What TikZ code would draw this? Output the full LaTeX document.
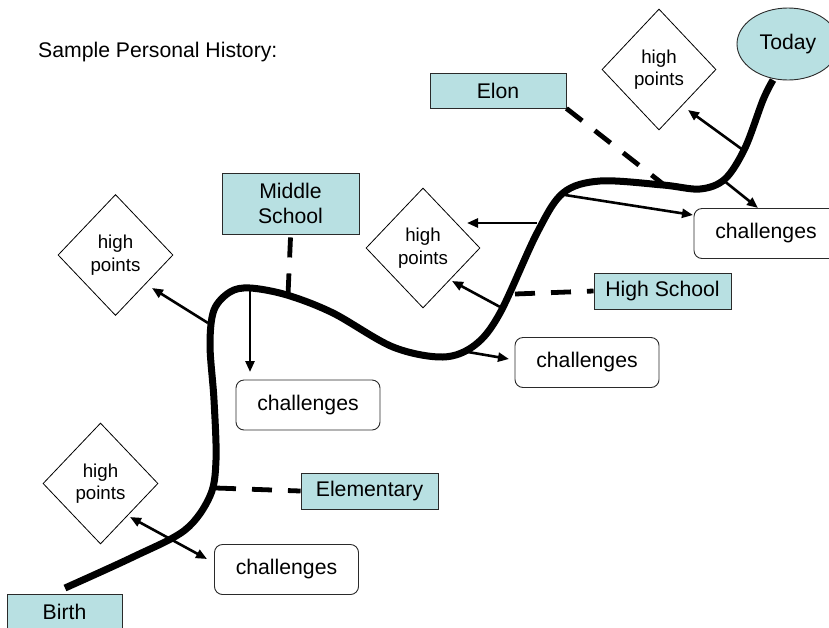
\documentclass[tikz,border=0pt]{standalone}
\usepackage{fontspec}
\setmainfont{Liberation Sans}
\usetikzlibrary{shapes.geometric,arrows.meta}
\definecolor{tealbox}{HTML}{B8E0E2}
\definecolor{edgegray}{HTML}{2A2A2A}
\tikzset{
  bluebox/.style={draw=edgegray,line width=0.9pt,fill=tealbox,inner sep=0pt,
    font=\fontsize{21.2}{25.5}\selectfont,align=center},
  chalbox/.style={draw=edgegray,line width=0.9pt,rounded corners=8pt,fill=white,
    inner sep=0pt,minimum width=144pt,minimum height=50pt,
    font=\fontsize{21.2}{25.5}\selectfont},
  hpdiam/.style={diamond,draw=black,line width=0.8pt,fill=white,inner sep=0pt,
    minimum width=115pt,minimum height=121pt,align=center,
    font=\fontsize{18.7}{22.5}\selectfont},
  lifeline/.style={line width=7pt,line cap=butt},
  dashlink/.style={line width=4.8pt,dash pattern=on 20pt off 16pt},
  arr/.style={line width=2.6pt,-{Triangle[length=11pt,width=9pt]}},
  dblarr/.style={line width=2.6pt,{Triangle[length=11pt,width=9pt]}-{Triangle[length=11pt,width=9pt]}},
}
\begin{document}
\begin{tikzpicture}[x=1pt,y=-1pt]
\useasboundingbox (0,0) rectangle (829,627);

% title
\node[anchor=base west,inner sep=0pt,font=\fontsize{21.2}{25.5}\selectfont] (title) at (38,57) {Sample Personal History:};

% life line
\coordinate (start) at (65,588);
\coordinate (finish) at (773,80);
\draw[lifeline] plot[smooth,tension=0.55] coordinates {
 (65,588) (133,557) (185,530) (210,496) (216,460) (214,400) (210,345)
 (214,310) (230,292) (250,288) (287,295) (333,313) (393,347) (443,357)
 (475,345) (500,313) (537,233) (563,193) (600,181) (663,185) (700,189)
 (725,179) (745,148) (763,100) (773,80)};

% milestone boxes
\node[bluebox,minimum width=136pt,minimum height=35pt] (elon) at (498,90.5) {Elon};
\node[bluebox,minimum width=137pt,minimum height=61pt] (ms) at (290.5,203.5) {Middle\\School};
\node[bluebox,minimum width=137pt,minimum height=36pt] (hs) at (662.5,291) {High School};
\node[bluebox,minimum width=137pt,minimum height=36pt] (el) at (369.5,491) {Elementary};
\node[bluebox,minimum width=115pt,minimum height=36pt] (birth) at (64.5,612) {Birth};
\node[ellipse,draw=edgegray,line width=0.9pt,fill=tealbox,inner sep=0pt,
  minimum width=102pt,minimum height=72pt,font=\fontsize{21.2}{25.5}\selectfont] (today) at (788,44) {Today};

% high points
\node[hpdiam,minimum width=114pt] (hp4) at (659,69.5) {high\\points};
\node[hpdiam] (hp1) at (115.5,255) {high\\points};
\node[hpdiam,minimum width=114pt,minimum height=120pt] (hp3) at (423,248) {high\\points};
\node[hpdiam] (hp0) at (100.5,483.5) {high\\points};

% challenges
\node[chalbox] (ch4) at (766,233.5) {challenges};
\node[chalbox] (ch3) at (587,362.5) {challenges};
\node[chalbox] (ch2) at (308,405) {challenges};
\node[chalbox] (ch1) at (286.5,569.5) {challenges};

% points on the line
\coordinate (pms) at (288,295);
\coordinate (pelon) at (663,184);
\coordinate (phs) at (515,294);
\coordinate (pel) at (216,488);

% dashed links
\draw[dashlink] ([yshift=-3pt]ms.south) -- (pms);
\draw[dashlink] (elon.south east) -- (pelon);
\draw[dashlink] (phs) -- (hs.west);
\draw[dashlink] (pel) -- (el.west);

% arrows
\coordinate (a1s) at (208,323); \coordinate (a1e) at (152,288);
\coordinate (a2s) at (250,289); \coordinate (a2e) at (250,372);
\coordinate (a3s) at (537,223); \coordinate (a3e) at (467,223);
\coordinate (a4s) at (502,308); \coordinate (a4e) at (452,281);
\coordinate (a5s) at (468,352); \coordinate (a5e) at (509,359);
\coordinate (a6s) at (565,195); \coordinate (a6e) at (693,215);
\coordinate (a7s) at (743,150); \coordinate (a7e) at (688,110);
\coordinate (a8s) at (723,180); \coordinate (a8e) at (758,208);
\coordinate (a9s) at (130,517); \coordinate (a9e) at (207,559);
\draw[arr] (a1s) -- (a1e);
\draw[arr] (a2s) -- (a2e);
\draw[arr] (a3s) -- (a3e);
\draw[arr] (a4s) -- (a4e);
\draw[arr] (a5s) -- (a5e);
\draw[arr] (a6s) -- (a6e);
\draw[arr] (a7s) -- (a7e);
\draw[arr] (a8s) -- (a8e);
\draw[dblarr] (a9s) -- (a9e);
\end{tikzpicture}
\end{document}
